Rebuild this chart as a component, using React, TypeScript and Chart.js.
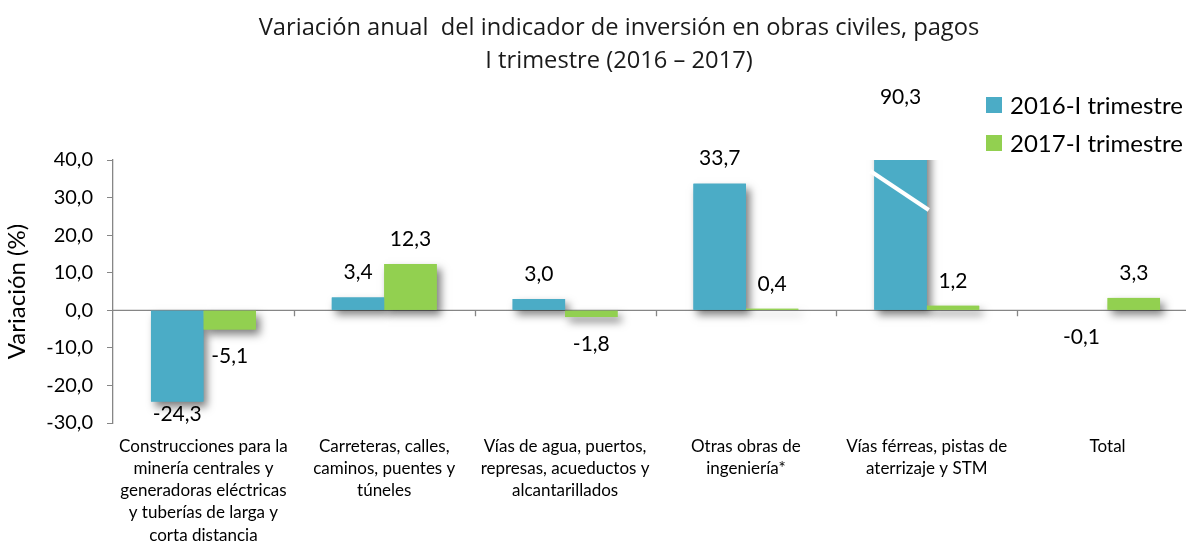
import React, { useEffect, useRef } from "react";
import { Chart, registerables } from "chart.js";

Chart.register(...registerables);

const categories: string[][] = [
  ["Construcciones para la", "minería centrales y", "generadoras eléctricas", "y tuberías de larga y", "corta distancia"],
  ["Carreteras, calles,", "caminos, puentes y", "túneles"],
  ["Vías de agua, puertos,", "represas, acueductos y", "alcantarillados"],
  ["Otras obras de", "ingeniería*"],
  ["Vías férreas, pistas de", "aterrizaje y STM"],
  ["Total"],
];
const seriesNames = ["2016-I trimestre", "2017-I trimestre"];
const values2016 = [-24.3, 3.4, 3.0, 33.7, 90.3, -0.1];
const values2017 = [-5.1, 12.3, -1.8, 0.4, 1.2, 3.3];
const yMin = -30;
const yMax = 40;
const yStep = 10;
const titleLines = ["Variación anual  del indicador de inversión en obras civiles, pagos", "I trimestre (2016 – 2017)"];
const yAxisTitle = "Variación (%)";

const BLUE = "#4BACC6";
const GREEN = "#92D050";
const AXIS = "#868686";
const FONT = "Lato";

const fmt = (v: number, d = 1) => v.toFixed(d).replace(".", ",");

const decorPlugin = {
  id: "decor",
  beforeDatasetsDraw(chart: any) {
    const { ctx, chartArea, scales } = chart;
    const x = scales.x;
    const y0 = scales.y.getPixelForValue(0);
    ctx.save();
    ctx.strokeStyle = AXIS;
    ctx.lineWidth = 1.3;
    ctx.beginPath();
    ctx.moveTo(chartArea.left, y0);
    ctx.lineTo(chartArea.right, y0);
    const n = categories.length;
    const w = (chartArea.right - chartArea.left) / n;
    for (let i = 1; i < n; i++) {
      const bx = Math.round(x.getPixelForValue(i) - w / 2) + 0.5;
      ctx.moveTo(bx, y0);
      ctx.lineTo(bx, y0 + 6);
    }
    ctx.stroke();
    ctx.beginPath();
    ctx.rect(chartArea.left, chartArea.top, chartArea.right - chartArea.left, chartArea.bottom - chartArea.top + 20);
    ctx.clip();
    ctx.shadowColor = "rgba(0,0,0,0.5)";
    ctx.shadowBlur = 8;
    ctx.shadowOffsetX = 4;
    ctx.shadowOffsetY = 5;
    chart.data.datasets.forEach((ds: any, di: number) => {
      const meta = chart.getDatasetMeta(di);
      ctx.fillStyle = ds.backgroundColor;
      meta.data.forEach((bar: any) => {
        const top = Math.min(bar.y, bar.base);
        const h = Math.abs(bar.base - bar.y);
        if (h < 1) return;
        ctx.fillRect(bar.x - bar.width / 2, top, bar.width, h);
      });
    });
    ctx.restore();
  },
  afterDatasetsDraw(chart: any) {
    const { ctx, chartArea } = chart;
    ctx.save();
    chart.data.datasets.forEach((ds: any, di: number) => {
      const meta = chart.getDatasetMeta(di);
      meta.data.forEach((bar: any, i: number) => {
        const v = ds.data[i];
        if (v > yMax) {
          const l = bar.x - bar.width / 2;
          const r = bar.x + bar.width / 2;
          ctx.strokeStyle = "#ffffff";
          ctx.lineWidth = 4;
          ctx.beginPath();
          ctx.moveTo(l - 4, chartArea.top + 11);
          ctx.lineTo(r + 2, chartArea.top + 50);
          ctx.stroke();
        }
      });
    });
    ctx.fillStyle = "#000";
    ctx.font = `21px ${FONT}`;
    ctx.textAlign = "center";
    ctx.textBaseline = "middle";
    chart.data.datasets.forEach((ds: any, di: number) => {
      const meta = chart.getDatasetMeta(di);
      meta.data.forEach((bar: any, i: number) => {
        const v = ds.data[i];
        let ly: number;
        if (v > yMax) ly = chartArea.top - 63;
        else if (v >= 0) ly = bar.y - 25;
        else ly = Math.min(bar.y + 27, chartArea.bottom - 9);
        ctx.fillText(fmt(v), bar.x, ly);
      });
    });
    ctx.restore();
  },
  afterDraw(chart: any) {
    const { ctx } = chart;
    ctx.save();
    ctx.fillStyle = "#1a1a1a";
    ctx.font = `23.7px 'Open Sans'`;
    ctx.textAlign = "center";
    ctx.textBaseline = "middle";
    ctx.fillText(titleLines[0], 619, 28);
    ctx.fillText(titleLines[1], 619, 61);
    const colors = [BLUE, GREEN];
    ctx.textAlign = "left";
    ctx.font = `24px ${FONT}`;
    seriesNames.forEach((name, i) => {
      const cy = 105 + i * 38;
      ctx.fillStyle = colors[i];
      ctx.fillRect(986, cy - 8, 16, 16);
      ctx.fillStyle = "#000";
      ctx.fillText(name, 1010, cy + 1);
    });
    ctx.restore();
  },
};

export default function App() {
  const ref = useRef<HTMLCanvasElement | null>(null);
  useEffect(() => {
    if (!ref.current) return;
    const chart = new Chart(ref.current, {
      type: "bar",
      data: {
        labels: categories,
        datasets: [
          { label: seriesNames[0], data: values2016, backgroundColor: BLUE, categoryPercentage: 0.58, barPercentage: 1 },
          { label: seriesNames[1], data: values2017, backgroundColor: GREEN, categoryPercentage: 0.58, barPercentage: 1 },
        ],
      },
      options: {
        animation: false,
        responsive: false,
        layout: { padding: { top: 160, right: 2, left: 0, bottom: 0 } },
        plugins: { legend: { display: false }, title: { display: false }, tooltip: { enabled: false } },
        scales: {
          x: {
            grid: { display: false },
            border: { display: false },
            ticks: {
              color: "#000",
              font: { family: FONT, size: 17, lineHeight: 1.31 },
              padding: 4,
              maxRotation: 0,
              minRotation: 0,
              autoSkip: false,
            },
            afterFit: (s: any) => {
              s.height = 121;
            },
          },
          y: {
            min: yMin,
            max: yMax,
            grid: { drawOnChartArea: false, drawTicks: true, tickLength: 6, color: AXIS },
            border: { display: true, color: AXIS, width: 1.3 },
            ticks: {
              stepSize: yStep,
              color: "#000",
              font: { family: FONT, size: 20 },
              padding: 14,
              callback: (v: any) => fmt(Number(v)),
            },
            title: {
              display: true,
              text: yAxisTitle,
              color: "#000",
              font: { family: FONT, size: 24 },
              padding: { top: 3, bottom: 0 },
            },
            afterFit: (s: any) => {
              s.width = 113;
            },
          },
        },
      },
      plugins: [decorPlugin],
    });
    return () => chart.destroy();
  }, []);
  return (
    <div style={{ position: "fixed", left: 0, top: 0, width: 1186, height: 544, overflow: "hidden", background: "#fff" }}>
      <canvas ref={ref} width={1200} height={544} style={{ width: 1200, height: 544, display: "block" }} />
    </div>
  );
}
